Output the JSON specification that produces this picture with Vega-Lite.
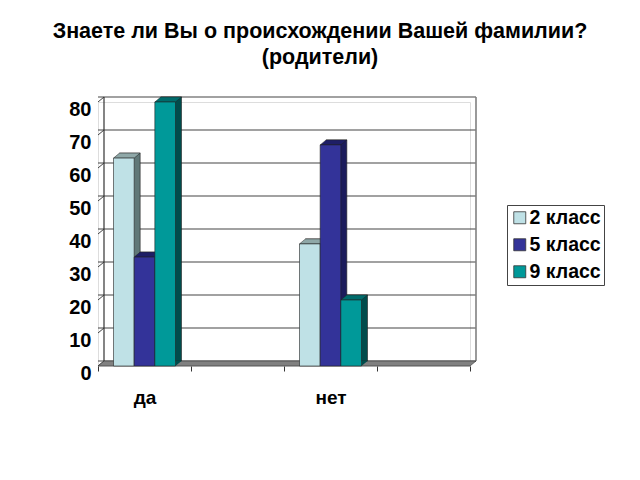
{
  "$schema": "https://vega.github.io/schema/vega-lite/v6.json",
  "width": 372,
  "height": 264,
  "autosize": "none",
  "padding": {"left": 98, "top": 102, "right": 170, "bottom": 114},
  "background": "white",
  "title": {
    "text": ["Знаете ли Вы о происхождении Вашей фамилии?", "(родители)"],
    "font": "Liberation Sans",
    "fontSize": 21.5,
    "fontWeight": "bold",
    "color": "black",
    "anchor": "middle",
    "dx": 36,
    "offset": 27,
    "lineHeight": 26
  },
  "datasets": {
    "bars": [
      {"answer": "да", "grade": "2 класс", "percent": 63},
      {"answer": "да", "grade": "5 класс", "percent": 33},
      {"answer": "да", "grade": "9 класс", "percent": 80},
      {"answer": "нет", "grade": "2 класс", "percent": 37},
      {"answer": "нет", "grade": "5 класс", "percent": 67},
      {"answer": "нет", "grade": "9 класс", "percent": 20}
    ],
    "ticks": [
      {"tick": 0}, {"tick": 10}, {"tick": 20}, {"tick": 30}, {"tick": 40},
      {"tick": 50}, {"tick": 60}, {"tick": 70}, {"tick": 80}
    ],
    "floor": [{"base": 0, "top": 80}]
  },
  "data": {"name": "bars"},
  "resolve": {"scale": {"xOffset": "independent"}},
  "encoding": {
    "x": {
      "field": "answer",
      "type": "nominal",
      "sort": null,
      "scale": {"domain": ["да", " ", "нет", "  "], "paddingInner": 0, "paddingOuter": 0},
      "axis": {
        "title": null,
        "domain": false,
        "grid": false,
        "labelAngle": 0,
        "tickBand": "extent",
        "tickColor": "#333333",
        "tickSize": 5,
        "labelPadding": 17,
        "labelFont": "Liberation Sans",
        "labelFontSize": 19,
        "labelFontWeight": "bold",
        "labelColor": "black"
      }
    },
    "xOffset": {
      "field": "grade",
      "type": "nominal",
      "scale": {"type": "band", "paddingInner": 0, "paddingOuter": 0.75}
    },
    "y": {
      "field": "percent",
      "type": "quantitative",
      "scale": {"domain": [0, 80], "nice": false},
      "axis": {
        "title": null,
        "domain": false,
        "grid": false,
        "ticks": false,
        "values": [0, 10, 20, 30, 40, 50, 60, 70, 80],
        "labelPadding": 7,
        "labelOffset": 7,
        "labelFont": "Liberation Sans",
        "labelFontSize": 20,
        "labelFontWeight": "bold",
        "labelColor": "black"
      }
    }
  },
  "layer": [
    {
      "data": {"name": "ticks"},
      "mark": {"type": "rule", "color": "#444444", "strokeWidth": 1.2, "xOffset": 6, "x2Offset": 6, "yOffset": -5},
      "encoding": {
        "x": null,
        "xOffset": null,
        "y": {"field": "tick", "type": "quantitative"}
      }
    },
    {
      "data": {"name": "ticks"},
      "mark": {"type": "point", "shape": "M0,0 L6,-5", "size": 4, "filled": false, "color": "#444444", "strokeWidth": 1, "opacity": 1},
      "encoding": {
        "x": {"datum": "да", "bandPosition": 0},
        "xOffset": null,
        "y": {"field": "tick", "type": "quantitative"}
      }
    },
    {
      "data": {"name": "floor"},
      "mark": {"type": "rule", "color": "#333333", "strokeWidth": 1.2, "xOffset": 6, "yOffset": -5, "y2Offset": -5},
      "encoding": {
        "x": {"datum": "да", "bandPosition": 0},
        "xOffset": null,
        "y": {"field": "base", "type": "quantitative"},
        "y2": {"field": "top"}
      }
    },
    {
      "data": {"name": "floor"},
      "mark": {"type": "rule", "color": "#808080", "strokeWidth": 1.6, "xOffset": 6, "yOffset": -5, "y2Offset": -5},
      "encoding": {
        "x": {"datum": "  ", "bandPosition": 1},
        "xOffset": null,
        "y": {"field": "base", "type": "quantitative"},
        "y2": {"field": "top"}
      }
    },
    {
      "data": {"name": "floor"},
      "mark": {"type": "point", "shape": "M0,0 L372,0 L378,-5 L6,-5 Z", "size": 4, "filled": true, "color": "#808080", "stroke": "#333333", "strokeWidth": 0.6, "opacity": 1},
      "encoding": {
        "x": {"datum": "да", "bandPosition": 0},
        "xOffset": null,
        "y": {"field": "base", "type": "quantitative"}
      }
    },
    {
      "mark": {"type": "bar", "yOffset": -5, "y2Offset": -5, "stroke": "#222222", "strokeWidth": 0.6},
      "encoding": {
        "xOffset": {
          "field": "grade",
          "type": "nominal",
          "scale": {"type": "band", "paddingInner": 0, "paddingOuter": 0.75, "range": [6, 99]}
        },
        "color": {
          "condition": [
            {"test": "datum.grade === '2 класс'", "value": "#607878"},
            {"test": "datum.grade === '5 класс'", "value": "#1c1c5c"}
          ],
          "value": "#004c4c"
        }
      }
    },
    {
      "mark": {"type": "point", "shape": "M10.33,0 L16.33,-5 L10.33,-5 Z", "size": 4, "filled": true, "opacity": 1},
      "encoding": {
        "y": {"datum": 0},
        "color": {
          "condition": [
            {"test": "datum.grade === '2 класс'", "value": "#607878"},
            {"test": "datum.grade === '5 класс'", "value": "#1c1c5c"}
          ],
          "value": "#004c4c"
        }
      }
    },
    {
      "mark": {"type": "point", "shape": "M-10.33,0 L10.33,0 L16.33,-5 L-4.33,-5 Z", "size": 4, "filled": true, "opacity": 1, "stroke": "#222222", "strokeWidth": 0.5},
      "encoding": {
        "color": {
          "condition": [
            {"test": "datum.grade === '2 класс'", "value": "#8fa8a8"},
            {"test": "datum.grade === '5 класс'", "value": "#1e1e66"}
          ],
          "value": "#006c6c"
        }
      }
    },
    {
      "mark": {"type": "bar", "stroke": "#222222", "strokeWidth": 0.6},
      "encoding": {
        "color": {
          "field": "grade",
          "type": "nominal",
          "scale": {"domain": ["2 класс", "5 класс", "9 класс"], "range": ["#bfe1e6", "#333399", "#009999"]},
          "legend": {
            "title": null,
            "orient": "none",
            "legendX": 409,
            "legendY": 103,
            "symbolType": "square",
            "symbolSize": 144,
            "symbolStrokeColor": "#333333",
            "symbolStrokeWidth": 0.8,
            "labelFont": "Liberation Sans",
            "labelFontSize": 19.5,
            "labelFontWeight": "bold",
            "labelColor": "black",
            "rowPadding": 6,
            "labelOffset": 0,
            "padding": 3,
            "fillColor": "white",
            "strokeColor": "#444444"
          }
        }
      }
    }
  ]
}
